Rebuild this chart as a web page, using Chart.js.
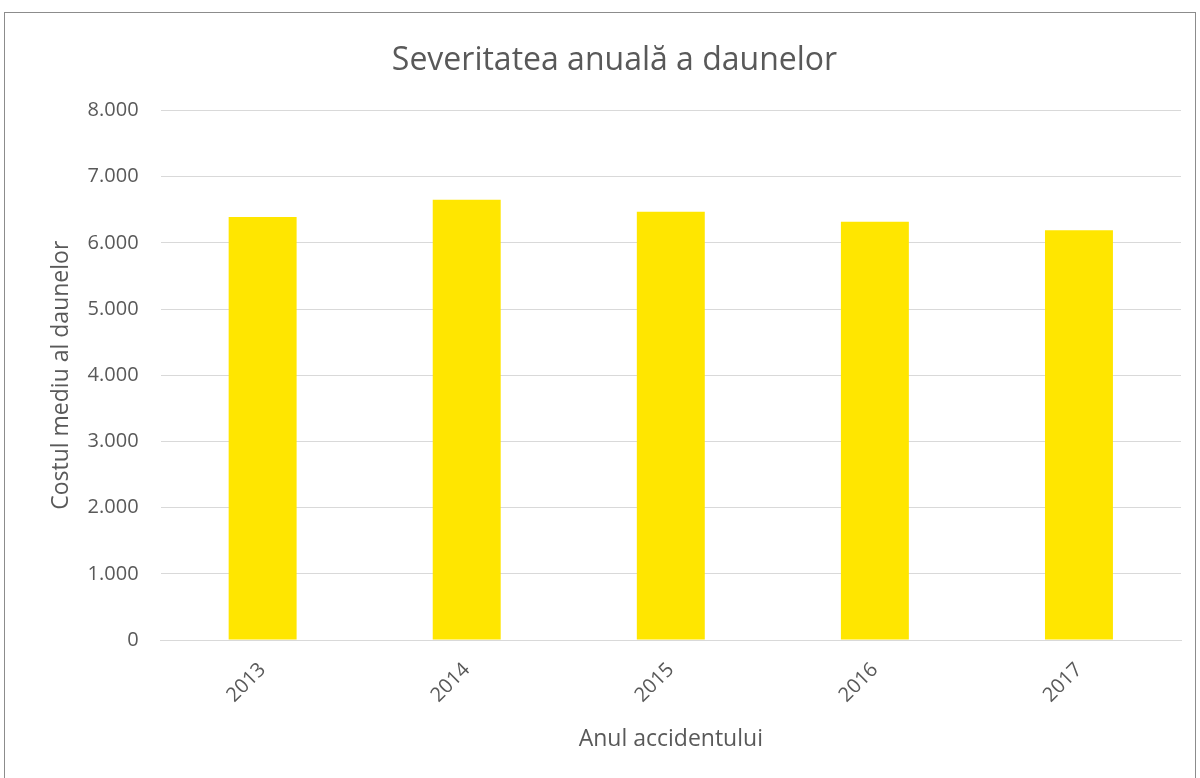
<!DOCTYPE html>
<html>
<head>
<meta charset="utf-8">
<script src="https://cdn.jsdelivr.net/npm/chart.js@4.4.1/dist/chart.umd.min.js"></script>
<style>
  html, body { margin: 0; padding: 0; background: #fff; }
  #wrap { width: 1200px; height: 778px; position: relative; }
</style>
</head>
<body>
<div id="wrap"><canvas id="severityChart" width="1200" height="778"></canvas></div>
<script>
const years = ['2013', '2014', '2015', '2016', '2017'];
const avgCost = [6390, 6650, 6470, 6320, 6190];
const yTicks = [0, 1000, 2000, 3000, 4000, 5000, 6000, 7000, 8000];

const chartFont = "'Open Sans', 'Noto Sans', sans-serif";
const textGrey = '#595959';

// outer frame like the spreadsheet chart area
const framePlugin = {
    id: 'frame',
    beforeDraw(chart) {
        const ctx = chart.ctx;
        ctx.save();
        ctx.fillStyle = '#fff';
        ctx.fillRect(0, 0, chart.width, chart.height);
        ctx.strokeStyle = '#8c8c8c';
        ctx.lineWidth = 1;
        ctx.strokeRect(4.5, 12.5, 1191, 800);
        ctx.restore();
    }
};

new Chart(document.getElementById('severityChart'), {
    type: 'bar',
    data: {
        labels: years,
        datasets: [{
            label: 'Costul mediu al daunelor',
            data: avgCost,
            backgroundColor: '#ffe600',
            categoryPercentage: 1,
            barPercentage: 0.333
        }]
    },
    options: {
        responsive: false,
        animation: false,
        layout: { padding: { left: 48, right: 19, top: 16, bottom: 25 } },
        plugins: {
            legend: { display: false },
            tooltip: { enabled: false },
            title: {
                display: true,
                text: 'Severitatea anuală a daunelor',
                color: textGrey,
                font: { family: chartFont, size: 32, weight: 'normal', lineHeight: 1.2 },
                padding: { top: 26, bottom: 30 }
            }
        },
        scales: {
            x: {
                grid: { display: false },
                border: { color: '#d9d9d9' },
                ticks: {
                    color: textGrey,
                    font: { family: chartFont, size: 20 },
                    maxRotation: 45,
                    minRotation: 45,
                    padding: 10
                },
                title: {
                    display: true,
                    text: 'Anul accidentului',
                    color: textGrey,
                    font: { family: chartFont, size: 23, lineHeight: 1.2 },
                    padding: { top: 8, bottom: 0 }
                }
            },
            y: {
                min: 0,
                max: 8000,
                afterBuildTicks(axis) {
                    axis.ticks = yTicks.map(v => ({ value: v }));
                },
                grid: { color: '#d9d9d9', drawTicks: false },
                border: { display: false },
                ticks: {
                    color: textGrey,
                    font: { family: chartFont, size: 20 },
                    padding: 22,
                    callback: v => v.toLocaleString('de-DE')
                },
                title: {
                    display: true,
                    text: 'Costul mediu al daunelor',
                    color: textGrey,
                    font: { family: chartFont, size: 23, lineHeight: 1.2 },
                    padding: { top: 0, bottom: -10 }
                }
            }
        }
    },
    plugins: [framePlugin]
});
</script>
</body>
</html>
